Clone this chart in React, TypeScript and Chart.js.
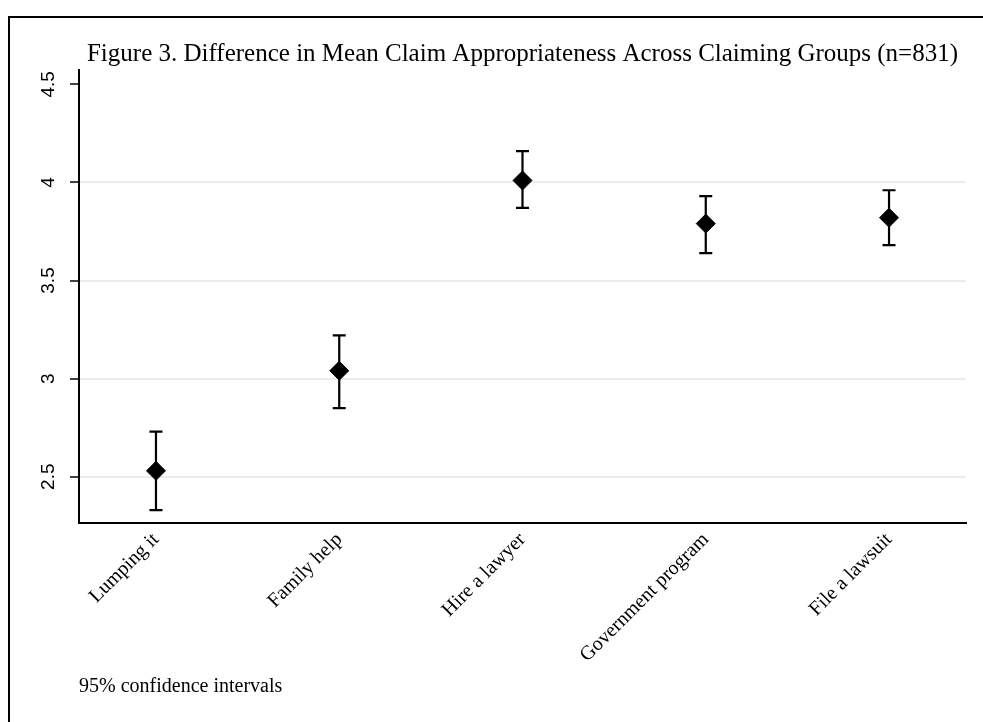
import React, { useEffect, useRef } from 'react';
import { Chart, registerables } from 'chart.js';

Chart.register(...registerables);

const categories = ['Lumping it', 'Family help', 'Hire a lawyer', 'Government program', 'File a lawsuit'];
const means = [2.53, 3.04, 4.01, 3.79, 3.82];
const lowerCI = [2.33, 2.85, 3.87, 3.64, 3.68];
const upperCI = [2.73, 3.22, 4.16, 3.93, 3.96];
const yTicks = [2.5, 3, 3.5, 4, 4.5];
const titleText = 'Figure 3. Difference in Mean Claim Appropriateness Across Claiming Groups (n=831)';
const noteText = '95% confidence intervals';

const SERIF = '"Liberation Serif", "Times New Roman", serif';
const SANS = '"Liberation Sans", Arial, sans-serif';

const errorBarPlugin = {
  id: 'errorBars',
  beforeDatasetsDraw(chart: any) {
    const { ctx } = chart;
    const x = chart.scales.x;
    const y = chart.scales.y;
    ctx.save();
    ctx.strokeStyle = '#000';
    ctx.lineWidth = 2.2;
    categories.forEach((_, i) => {
      const px = x.getPixelForValue(i + 1);
      const yl = y.getPixelForValue(lowerCI[i]);
      const yu = y.getPixelForValue(upperCI[i]);
      ctx.beginPath();
      ctx.moveTo(px, yl);
      ctx.lineTo(px, yu);
      ctx.moveTo(px - 6.5, yl);
      ctx.lineTo(px + 6.5, yl);
      ctx.moveTo(px - 6.5, yu);
      ctx.lineTo(px + 6.5, yu);
      ctx.stroke();
    });
    ctx.restore();
  },
};

export default function App() {
  const canvasRef = useRef<HTMLCanvasElement | null>(null);

  useEffect(() => {
    if (!canvasRef.current) return;
    const chart = new Chart(canvasRef.current, {
      type: 'scatter',
      data: {
        datasets: [
          {
            data: means.map((m, i) => ({ x: i + 1, y: m })),
            pointStyle: 'rectRot',
            pointRadius: 9.5,
            pointHoverRadius: 9.5,
            backgroundColor: '#000',
            borderColor: '#000',
            borderWidth: 1,
          },
        ],
      },
      options: {
        responsive: false,
        animation: false,
        layout: { padding: { left: 0, right: 17, top: 0, bottom: 0 } },
        plugins: {
          legend: { display: false },
          tooltip: { enabled: false },
          title: {
            display: true,
            text: titleText,
            fullSize: false,
            color: '#000',
            font: { family: SERIF, size: 25, weight: 'normal' },
            padding: { top: 39, bottom: 1 },
          },
          subtitle: {
            display: true,
            text: noteText,
            position: 'bottom',
            align: 'start',
            fullSize: false,
            color: '#000',
            font: { family: SERIF, size: 20, weight: 'normal' },
            padding: { top: 12, bottom: 23 },
          },
        },
        scales: {
          x: {
            type: 'linear',
            min: 0.58,
            max: 5.42,
            afterBuildTicks: (s: any) => {
              s.ticks = categories.map((_, i) => ({ value: i + 1 }));
            },
            afterFit: (s: any) => {
              s.height = 140;
            },
            grid: { display: false, drawTicks: false },
            border: { display: true, color: '#000', width: 2 },
            ticks: {
              autoSkip: false,
              minRotation: 45,
              maxRotation: 45,
              padding: 5,
              color: '#000',
              font: { family: SERIF, size: 20 },
              callback: (v: any) => categories[Math.round(Number(v)) - 1] ?? '',
            },
          },
          y: {
            type: 'linear',
            min: 2.264,
            max: 4.573,
            afterBuildTicks: (s: any) => {
              s.ticks = yTicks.map((v) => ({ value: v }));
            },
            afterFit: (s: any) => {
              s.width = 79;
            },
            grid: {
              color: (c: any) => (c.tick && c.tick.value === 4.5 ? 'rgba(0,0,0,0)' : '#e6eef2'),
              lineWidth: 2,
              tickColor: '#000',
              tickLength: 9,
              tickWidth: 1.5,
            },
            border: { display: true, color: '#000', width: 2 },
            ticks: {
              minRotation: 90,
              maxRotation: 90,
              crossAlign: 'center',
              padding: 8,
              color: '#000',
              font: { family: SANS, size: 19 },
              callback: (v: any) => String(v),
            },
          },
        },
      },
      plugins: [errorBarPlugin],
    } as any);
    return () => chart.destroy();
  }, []);

  return (
    <div>
      <canvas
        ref={canvasRef}
        width={983}
        height={722}
        style={{ position: 'fixed', left: 0, top: 0, width: 983, height: 722 }}
      />
      <div
        style={{
          position: 'fixed',
          left: 8,
          top: 16,
          width: 1000,
          height: 720,
          borderLeft: '2px solid #000',
          borderTop: '2px solid #000',
          pointerEvents: 'none',
        }}
      />
    </div>
  );
}
